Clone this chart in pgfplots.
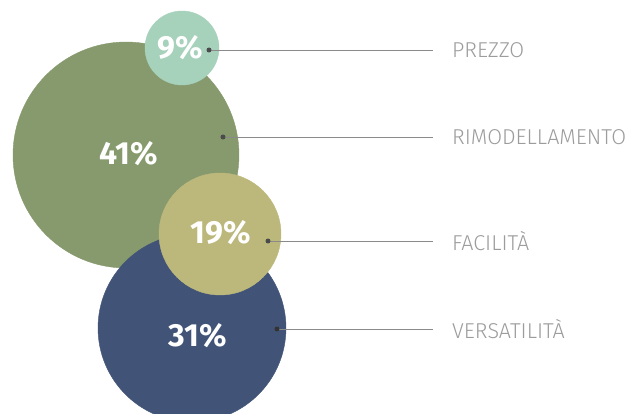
\documentclass[border=0pt]{standalone}
\usepackage{fontspec}
\setmainfont{Fira Sans}
\IfFontExistsTF{Fira Sans Light}{\newfontfamily\lightfont{Fira Sans Light}}{\newfontfamily\lightfont{Fira Sans}}
\usepackage{pgfplots}
\pgfplotsset{compat=1.18}
\definecolor{cPrezzo}{HTML}{A6D1BB}
\definecolor{cRimo}{HTML}{869A6D}
\definecolor{cFac}{HTML}{BCB87C}
\definecolor{cVers}{HTML}{415377}
\definecolor{cLine}{HTML}{8A8A8A}
\definecolor{cDot}{HTML}{4A4A4A}
\definecolor{cText}{HTML}{9C9C9C}
\begin{document}
\begin{tikzpicture}
\begin{axis}[
  at={(0,0)}, anchor=south west,
  x=1pt, y=1pt, y dir=reverse,
  xmin=0, xmax=630, ymin=0, ymax=414,
  hide axis, clip marker paths=true,
]
% bubbles: centre x, centre y, radius
\addplot[only marks, mark=*, mark size=113, color=cRimo, mark options={draw=cRimo,fill=cRimo}] coordinates {(126,155)};
\addplot[only marks, mark=*, mark size=37, color=cPrezzo, mark options={draw=cPrezzo,fill=cPrezzo}] coordinates {(182,48)};
\addplot[only marks, mark=*, mark size=94, color=cVers, mark options={draw=cVers,fill=cVers}] coordinates {(192,328)};
\addplot[only marks, mark=*, mark size=61, color=cFac, mark options={draw=cFac,fill=cFac}] coordinates {(220,234)};
% leader lines
\addplot[cLine, line width=0.9pt, mark=*, mark indices={1}, mark size=2, mark options={draw=cDot,fill=cDot}] coordinates {(209,50) (433,50)};
\addplot[cLine, line width=0.9pt, mark=*, mark indices={1}, mark size=2, mark options={draw=cDot,fill=cDot}] coordinates {(223,137) (433,137)};
\addplot[cLine, line width=0.9pt, mark=*, mark indices={1}, mark size=2, mark options={draw=cDot,fill=cDot}] coordinates {(268,241) (433,241)};
\addplot[cLine, line width=0.9pt, mark=*, mark indices={1}, mark size=2, mark options={draw=black!80,fill=black!80}] coordinates {(277,329) (433,329)};
% percentages
\node[text=white, font=\fontsize{32}{34}\selectfont\bfseries] at (axis cs:180,48) {9\%};
\node[text=white, font=\fontsize{32}{34}\selectfont\bfseries] at (axis cs:129,154) {41\%};
\node[text=white, font=\fontsize{32}{34}\selectfont\bfseries] at (axis cs:221,233) {19\%};
\node[text=white, font=\fontsize{32}{34}\selectfont\bfseries] at (axis cs:198,336) {31\%};
% labels
\node[text=cText, anchor=west, inner sep=0pt, font=\fontsize{21.5}{23}\lightfont] at (axis cs:452,50) {PREZZO};
\node[text=cText, anchor=west, inner sep=0pt, font=\fontsize{21.5}{23}\lightfont] at (axis cs:452,137) {RIMODELLAMENTO};
\node[text=cText, anchor=west, inner sep=0pt, font=\fontsize{21.5}{23}\lightfont] at (axis cs:452,241) {FACILITÀ};
\node[text=cText, anchor=west, inner sep=0pt, font=\fontsize{21.5}{23}\lightfont] at (axis cs:452,329) {VERSATILITÀ};
\end{axis}
\pgfresetboundingbox
\useasboundingbox (0,0) rectangle (630pt,414pt);
\end{tikzpicture}
\end{document}
